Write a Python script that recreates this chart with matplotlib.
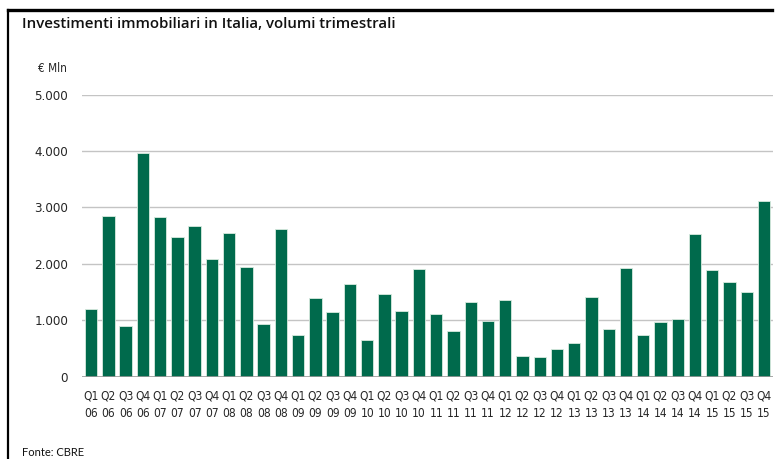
import numpy as np
import matplotlib
matplotlib.use("Agg")
import matplotlib.pyplot as plt
from matplotlib.lines import Line2D

# quarterly volumes, EUR million
quarters = ["Q1", "Q2", "Q3", "Q4"]
years = ["06", "07", "08", "09", "10", "11", "12", "13", "14", "15"]
volumes = [1200, 2840, 895, 3960,
           2830, 2480, 2675, 2090,
           2550, 1940, 925, 2615,
           730, 1385, 1150, 1640,
           655, 1455, 1155, 1900,
           1105, 815, 1330, 990,
           1365, 370, 340, 490,
           600, 1405, 850, 1930,
           730, 960, 1020, 2530,
           1885, 1675, 1495, 3105]
yticks = [0, 1000, 2000, 3000, 4000, 5000]
ytick_labels = ["0", "1.000", "2.000", "3.000", "4.000", "5.000"]

labels = [q + "\n" + y for y in years for q in quarters]

narrow = ["DejaVu Sans"]
text_col = "#262626"

fig = plt.figure(figsize=(7.76, 4.59), dpi=100)
ax = fig.add_axes([0.1057, 0.1797, 0.8904, 0.6144])

x = np.arange(len(volumes))
ax.bar(x, volumes, width=0.72, color="#006A4C", edgecolor="#d8eadf",
       linewidth=0.6, zorder=3)

ax.set_xlim(-0.53, len(volumes) - 0.48)
ax.set_ylim(0, 5000)
ax.set_yticks(yticks)
ax.set_yticklabels(ytick_labels, family=narrow, stretch="condensed",
                   fontsize=9.5, color=text_col)
ax.set_xticks(x)
ax.set_xticklabels(labels, family=narrow, stretch="condensed", fontsize=8.6,
                   color=text_col, linespacing=1.5)
ax.tick_params(axis="both", length=0)
ax.tick_params(axis="y", pad=10)
ax.tick_params(axis="x", pad=9)

for v in yticks[1:]:
    ax.axhline(v, color="#c4c4c4", linewidth=1.0, zorder=1)
ax.axhline(0, color="#9a9a9a", linewidth=1.2, zorder=4)
for s in ax.spines.values():
    s.set_visible(False)

fig.text(38 / 776, 1 - 68 / 459, "€ Mln", family=narrow, stretch="condensed",
         fontsize=8.5, color=text_col, va="center", ha="left")
fig.text(22 / 776, 1 - 24.5 / 459,
         "Investimenti immobiliari in Italia, volumi trimestrali",
         family="Open Sans", fontweight="semibold", fontsize=10.8,
         color="#111111", va="center", ha="left")
fig.text(22 / 776, 1 - 452 / 459, "Fonte: CBRE", family="Lato",
         fontsize=8, color="#111111", va="center", ha="left")

# frame of the original screenshot: top and left edges only
fig.add_artist(Line2D([7.5 / 776, 772 / 776], [1 - 9.5 / 459, 1 - 9.5 / 459],
                      color="black", linewidth=2.4))
fig.add_artist(Line2D([8 / 776, 8 / 776], [1 - 9.5 / 459, 0],
                      color="black", linewidth=1.6))

fig.savefig("out.png", dpi=100)
